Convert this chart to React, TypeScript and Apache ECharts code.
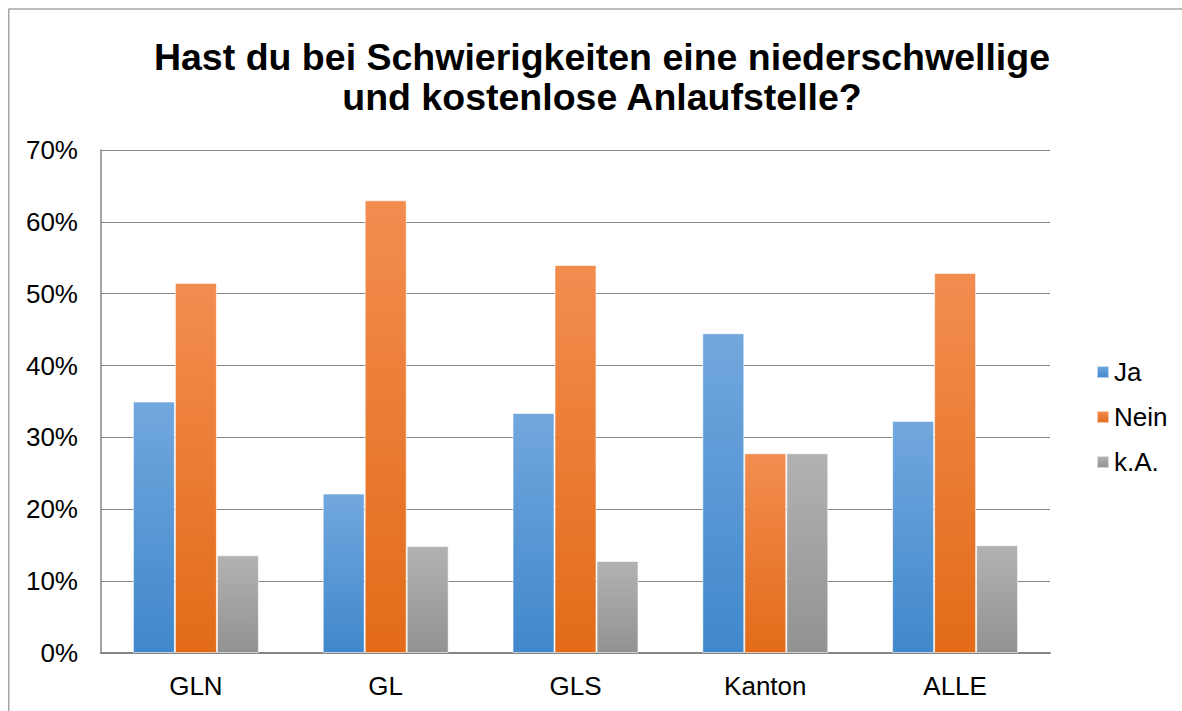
import React, { useEffect, useRef } from "react";
import * as echarts from "echarts";

const categories = ["GLN", "GL", "GLS", "Kanton", "ALLE"];
const ja = [35.0, 22.2, 33.4, 44.5, 32.3];
const nein = [51.5, 63.0, 54.0, 27.8, 52.9];
const ka = [13.6, 14.9, 12.8, 27.8, 15.0];
const yTicks = [0, 10, 20, 30, 40, 50, 60, 70];
const titleLines = ["Hast du bei Schwierigkeiten eine niederschwellige", "und kostenlose Anlaufstelle?"];

const grad = (top: string, bottom: string) =>
  new echarts.graphic.LinearGradient(0, 0, 0, 1, [
    { offset: 0, color: top },
    { offset: 1, color: bottom },
  ]);

export default function App() {
  const ref = useRef<HTMLDivElement>(null);
  useEffect(() => {
    if (!ref.current) return;
    document.body.style.margin = "0";
    document.body.style.overflow = "hidden";
    document.documentElement.style.overflow = "hidden";
    const chart = echarts.init(ref.current, null, { renderer: "svg" });
    const font = "'Liberation Sans', Arial, sans-serif";
    const mk = (name: string, data: number[], top: string, bottom: string) => ({
      name,
      type: "bar",
      data,
      barWidth: 42,
      barGap: "0%",
      itemStyle: { color: grad(top, bottom), borderColor: "rgba(255,255,255,0.6)", borderWidth: 1 },
    });
    const titleStyle = (text: string) => ({
      text,
      fontFamily: font,
      fontSize: 37.5,
      fontWeight: "bold",
      fill: "#000",
      textAlign: "center",
      textVerticalAlign: "middle",
    });
    chart.setOption({
      animation: false,
      textStyle: { fontFamily: font },
      graphic: [
        {
          type: "line",
          shape: { x1: 8.5, y1: 9, x2: 1182, y2: 9 },
          style: { stroke: "#A6A6A6", lineWidth: 1.5 },
          silent: true,
        },
        {
          type: "line",
          shape: { x1: 8.75, y1: 9, x2: 8.75, y2: 711 },
          style: { stroke: "#A6A6A6", lineWidth: 1.5 },
          silent: true,
        },
        { type: "text", x: 602, y: 57, style: titleStyle(titleLines[0]) },
        { type: "text", x: 602, y: 97, style: titleStyle(titleLines[1]) },
      ],
      legend: {
        orient: "vertical",
        left: 1091,
        top: 354,
        itemWidth: 12,
        itemHeight: 12,
        itemGap: 19,
        icon: "rect",
        textStyle: { fontFamily: font, fontSize: 26, color: "#000" },
        data: ["Ja", "Nein", "k.A."],
      },
      grid: { left: 101, right: 132, top: 150, bottom: 58, containLabel: false },
      xAxis: {
        type: "category",
        data: categories,
        axisLine: { lineStyle: { color: "#868686", width: 2 } },
        axisTick: { show: false },
        axisLabel: { fontFamily: font, fontSize: 26, color: "#000", margin: 20 },
      },
      yAxis: {
        type: "value",
        min: 0,
        max: 70,
        interval: 10,
        axisLine: { show: true, lineStyle: { color: "#868686", width: 1.5 } },
        axisTick: { show: false },
        splitLine: { lineStyle: { color: "#868686", width: 1 } },
        axisLabel: {
          fontFamily: font,
          fontSize: 26,
          color: "#000",
          margin: 23,
          formatter: (v: number) => (yTicks.includes(v) ? v + "%" : ""),
        },
      },
      series: [
        mk("Ja", ja, "#72A7DE", "#4088CB"),
        mk("Nein", nein, "#F28D50", "#E36B18"),
        mk("k.A.", ka, "#B2B2B2", "#929292"),
      ],
    });
    return () => chart.dispose();
  }, []);
  return <div ref={ref} style={{ width: 1182, height: 711 }} />;
}
